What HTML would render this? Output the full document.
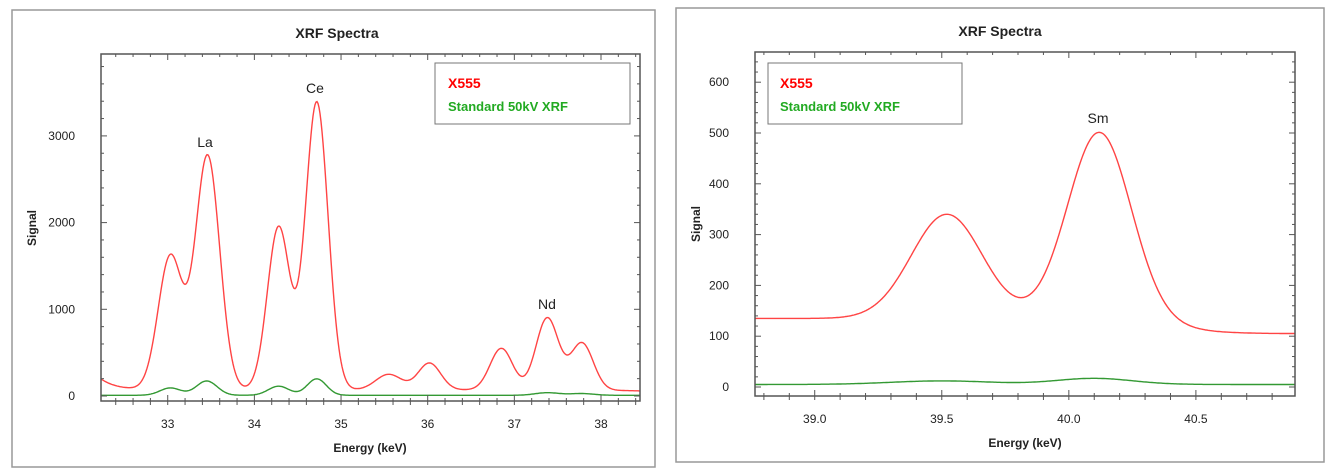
<!DOCTYPE html>
<html><head><meta charset="utf-8"><style>
body{margin:0;background:#fff;width:1339px;height:476px;overflow:hidden}
svg{position:absolute;left:0;top:0}
text{font-family:"Liberation Sans",sans-serif}
</style></head><body>
<svg id="s" width="1339" height="476" xmlns="http://www.w3.org/2000/svg">
<rect x="12" y="10" width="643" height="457" fill="none" stroke="#999" stroke-width="1.5"/>
<rect x="676" y="8" width="648" height="454" fill="none" stroke="#999" stroke-width="1.5"/>
<text x="337" y="38" font-size="14" font-weight="bold" text-anchor="middle" fill="#222">XRF Spectra</text>
<text x="1000" y="36" font-size="14" font-weight="bold" text-anchor="middle" fill="#222">XRF Spectra</text>
<text transform="translate(36,228) rotate(-90)" font-size="12" font-weight="bold" text-anchor="middle" fill="#222">Signal</text>
<text transform="translate(700,224) rotate(-90)" font-size="12" font-weight="bold" text-anchor="middle" fill="#222">Signal</text>
<text x="370" y="452" font-size="12" font-weight="bold" text-anchor="middle" fill="#222">Energy (keV)</text>
<text x="1025" y="447" font-size="12" font-weight="bold" text-anchor="middle" fill="#222">Energy (keV)</text>
<g id="g"></g>
<rect x="435" y="63" width="195" height="61" fill="#fff" stroke="#777"/>
<text x="448" y="88" font-size="14" font-weight="bold" fill="#f00">X555</text>
<text x="448" y="111" font-size="13" font-weight="bold" fill="#2a2">Standard 50kV XRF</text>
<rect x="768" y="63" width="194" height="61" fill="#fff" stroke="#777"/>
<text x="780" y="88" font-size="14" font-weight="bold" fill="#f00">X555</text>
<text x="780" y="111" font-size="13" font-weight="bold" fill="#2a2">Standard 50kV XRF</text>
<text x="205" y="147" font-size="14" text-anchor="middle" fill="#222">La</text>
<text x="315" y="93" font-size="14" text-anchor="middle" fill="#222">Ce</text>
<text x="547" y="309" font-size="14" text-anchor="middle" fill="#222">Nd</text>
<text x="1098" y="123" font-size="14" text-anchor="middle" fill="#222">Sm</text>
</svg>
<script>
var g=document.getElementById('g'),h='';
function G(x,p){var s=0;for(var i=0;i<p.length;i++){var d=x-p[i][0];s+=p[i][1]*Math.exp(-d*d/(2*p[i][2]*p[i][2]));}return s;}
function panel(o){
 var L=o.L,R=o.R,T=o.T,B=o.B;
 var X=function(v){return L+(v-o.x0)*(R-L)/(o.x1-o.x0)};
 var Y=function(v){return o.y0px-(v)*o.ypp};
 [['r','#f44'],['gr','#393']].forEach(function(c){
  var d='';for(var px=L;px<=R;px+=1){var v=(px-L)*(o.x1-o.x0)/(R-L)+o.x0;var y=Y(o[c[0]](v));d+=(px==L?'M':'L')+px+' '+y.toFixed(1);}
  h+='<path d="'+d+'" fill="none" stroke="'+c[1]+'" stroke-width="1.4"/>';});
 h+='<rect x="'+L+'" y="'+T+'" width="'+(R-L)+'" height="'+(B-T)+'" fill="none" stroke="#555" stroke-width="1.5"/>';
 for(var v=o.ymin;v<=o.ymax+1e-6;v+=o.ym){var y=Y(v);if(y<T||y>B)continue;var mj=Math.abs(v/o.yM-Math.round(v/o.yM))<1e-6;var l=mj?6:3;
  h+='<line x1="'+L+'" x2="'+(L+l)+'" y1="'+y+'" y2="'+y+'" stroke="#555"/><line x1="'+R+'" x2="'+(R-l)+'" y1="'+y+'" y2="'+y+'" stroke="#555"/>';
  if(mj)h+='<text x="'+(L-26)+'" y="'+(y+4)+'" font-size="12" text-anchor="end" fill="#222">'+v+'</text>';}
 for(var v=Math.ceil(o.x0/o.xm)*o.xm;v<=o.x1;v+=o.xm){var x=X(v);var mj=Math.abs(v/o.xM-Math.round(v/o.xM))<1e-6;var l=mj?6:3;
  h+='<line x1="'+x+'" x2="'+x+'" y1="'+B+'" y2="'+(B-l)+'" stroke="#555"/><line x1="'+x+'" x2="'+x+'" y1="'+T+'" y2="'+(T+l)+'" stroke="#555"/><line x1="'+x+'" x2="'+x+'" y1="'+B+'" y2="'+(B+4)+'" stroke="#555"/>';
  if(mj)h+='<text x="'+x+'" y="'+(B+27)+'" font-size="12" text-anchor="middle" fill="#222">'+v.toFixed(o.dp)+'</text>';}
}
panel({L:101,R:640,T:54,B:401,x0:32.23,x1:38.45,y0px:396,ypp:0.0867,ymin:0,ymax:3900,ym:200,yM:1000,xm:0.2,xM:1,dp:0,
 r:function(x){return 70+150*Math.exp(-(x-32.2)/0.18)+G(x,[[33.03,1540,0.14],[33.46,2700,0.14],[34.28,1880,0.13],[34.72,3320,0.13],[35.55,180,0.15],[36.02,310,0.13],[36.85,480,0.13],[37.38,830,0.13],[37.78,540,0.13]])-10*(x>37.9?(x-37.9)*2:0);},
 gr:function(x){return 8+G(x,[[33.03,85,0.12],[33.45,165,0.12],[34.28,105,0.12],[34.72,190,0.11],[37.38,30,0.14],[37.78,20,0.14]]);}});
panel({L:755,R:1295,T:52,B:396,x0:38.765,x1:40.89,y0px:387,ypp:0.508,ymin:0,ymax:660,ym:20,yM:100,xm:0.1,xM:0.5,dp:1,
 r:function(x){return 135-30/(1+Math.exp(-(x-40.4)/0.1))+G(x,[[39.52,205,0.14],[40.12,368,0.125]]);},
 gr:function(x){return 5+G(x,[[39.5,7,0.2],[40.1,12,0.15]]);}});
g.innerHTML=h;
</script>
</body></html>
